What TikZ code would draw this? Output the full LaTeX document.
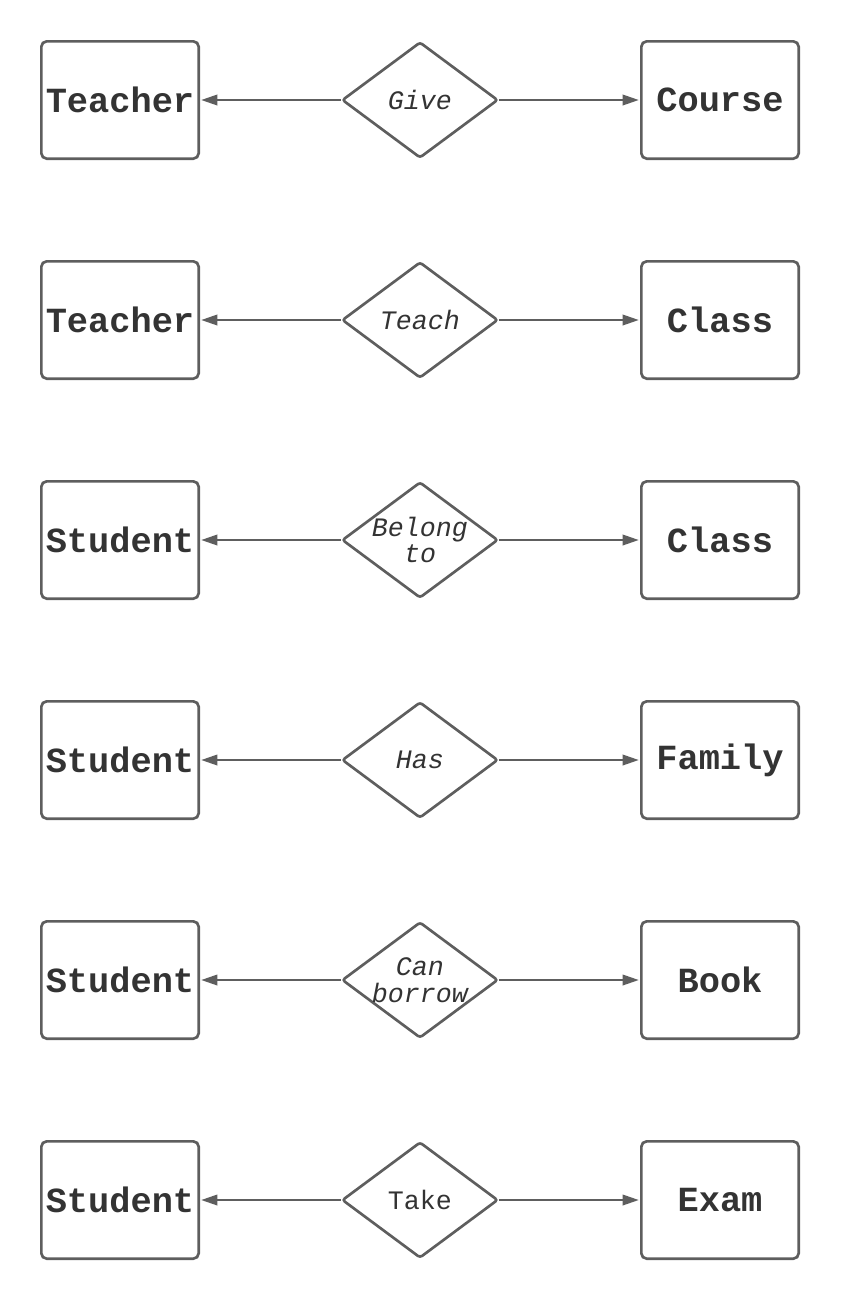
\documentclass[tikz,border=0pt]{standalone}
\usepackage{fontspec}
\usetikzlibrary{shapes.geometric,arrows.meta}
\newfontfamily\erfont{Liberation Mono}
\definecolor{edgegray}{HTML}{5E5E5E}
\definecolor{textgray}{HTML}{333333}
\tikzset{
	entity/.style={draw=edgegray, line width=2pt, rounded corners=4pt, minimum width=118pt, minimum height=88pt, inner sep=0pt, text=textgray, font=\erfont\bfseries\fontsize{26.5}{28}\selectfont},
	relation/.style={draw=edgegray, line width=2pt, diamond, rounded corners=2pt, minimum width=117pt, minimum height=87pt, inner sep=0pt},
	rellabel/.style={text=textgray, align=center, font=\erfont#1\fontsize{20}{20}\selectfont},
	link/.style={draw=edgegray, line width=1.1pt, -{Triangle[length=12pt,width=8pt]}, shorten >=1pt}
}

\begin{document}
\begin{tikzpicture}[x=0.75pt, y=-0.75pt]
	 \useasboundingbox (0, 0) rectangle (840, 1300);
	 % one row per relationship: entity <- relation -> entity
	 \foreach \i/\who/\act/\vs/\what in {1/Teacher/Give/\itshape/Course, 2/Teacher/Teach/\itshape/Class, 3/Student/{Belong\\to}/\itshape/Class, 4/Student/Has/\itshape/Family, 5/Student/{Can\\borrow}/\itshape/Book, 6/Student/Take/\upshape/Exam}
	 {
	 \node[entity] (l\i) at (120, {100 + 220*(\i - 1)}) {\who};
	 \node[relation, label={[rellabel=\vs]center:{\act}}] (d\i) at (420, {100 + 220*(\i - 1)}) {};
	 \node[entity] (r\i) at (720, {100 + 220*(\i - 1)}) {\what};
	 \draw[link] (d\i) -- (l\i);
	 \draw[link] (d\i) -- (r\i);
	 }
\end{tikzpicture}
\end{document}
